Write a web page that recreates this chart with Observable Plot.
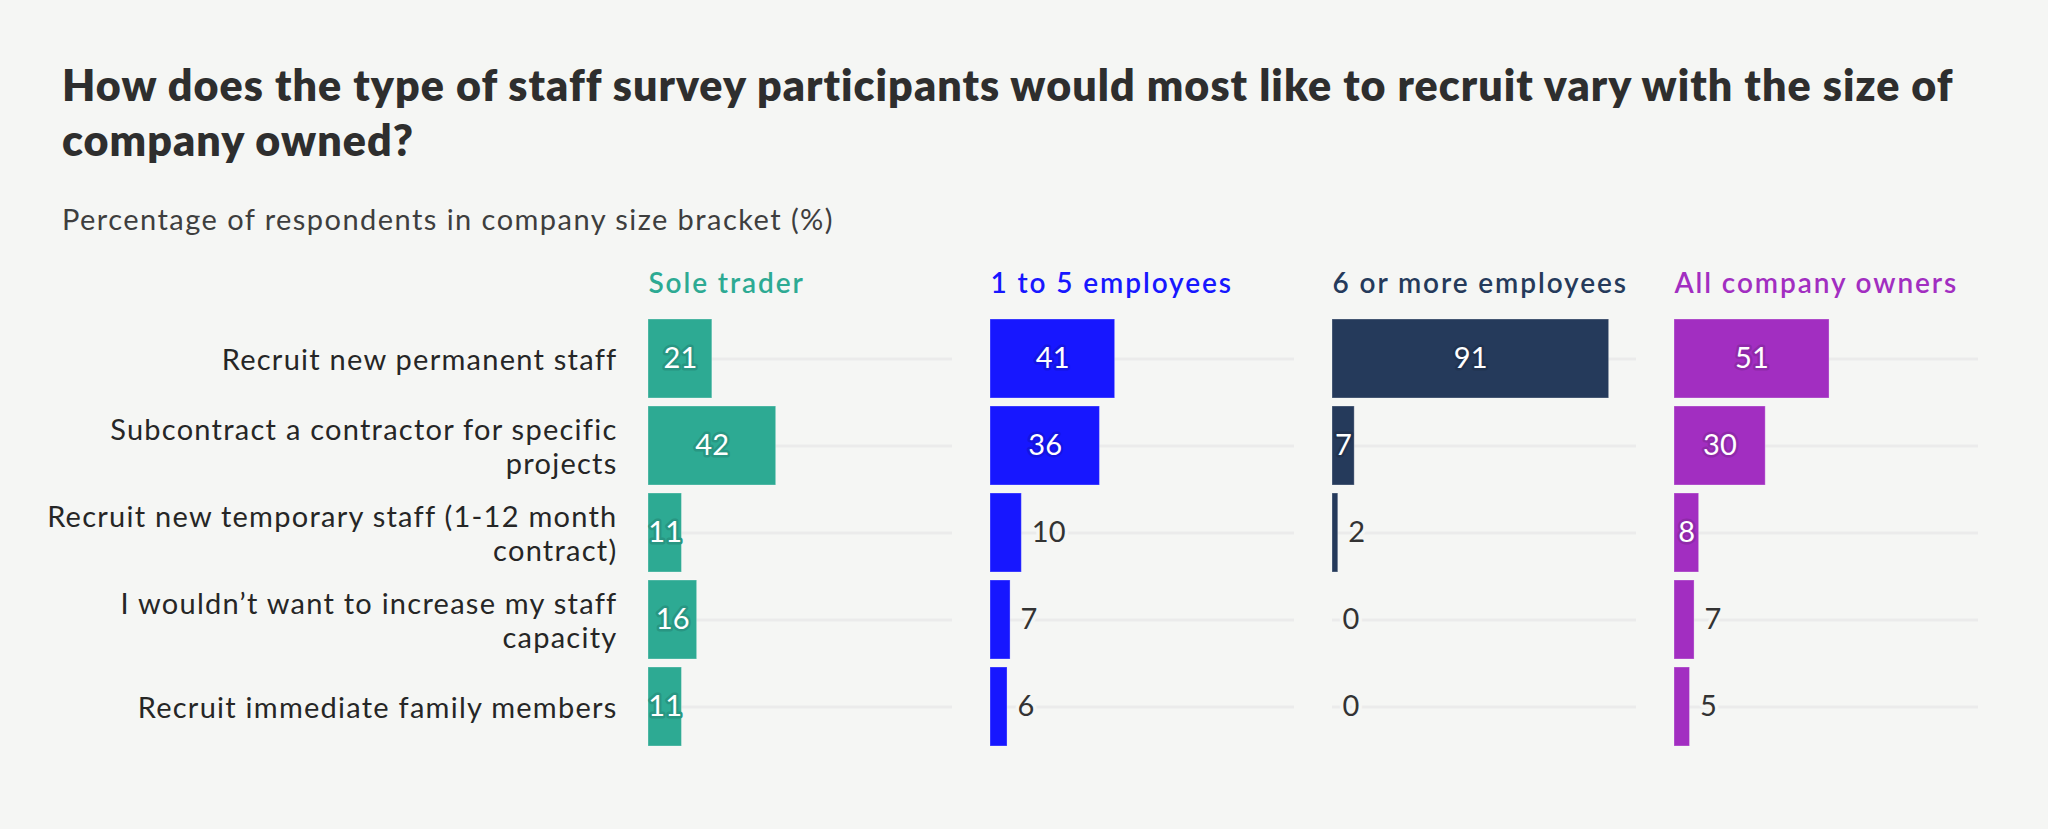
<!DOCTYPE html>
<html>
<head>
<meta charset="utf-8">
<script src="https://cdn.jsdelivr.net/npm/d3@7"></script>
<script src="https://cdn.jsdelivr.net/npm/@observablehq/plot@0.6"></script>
<style>
  html, body { margin: 0; padding: 0; background: #f5f6f4; }
  body { width: 2048px; height: 829px; position: relative; overflow: hidden; font-family: Lato, "Open Sans", sans-serif; }
  #title { position: absolute; left: 62px; top: 57px; font-size: 43px; line-height: 55px; font-weight: 800; color: #2e2e2e; white-space: nowrap; letter-spacing: 1.05px; }
  #subtitle { position: absolute; left: 62px; top: 201px; font-size: 29px; line-height: 35px; color: #3e3e3e; white-space: nowrap; letter-spacing: 1.45px; }
  #chart { position: absolute; left: 0; top: 250px; }
  #chart svg text { letter-spacing: 1.25px; }
  #chart svg text.hdr { letter-spacing: 1.9px; }
  #chart svg text.val { letter-spacing: 0.2px; }
</style>
</head>
<body>
<div id="title">How does the type of staff survey participants would most like to recruit vary with the size of<br>company owned?</div>
<div id="subtitle">Percentage of respondents in company size bracket (%)</div>
<div id="chart"></div>
<script>
// ---- data ----
const groups = ["Sole trader", "1 to 5 employees", "6 or more employees", "All company owners"];
const groupColors = ["#2daa93", "#1717ff", "#253a5b", "#a22ec1"];
const categories = [
  "Recruit new permanent staff",
  "Subcontract a contractor for specific projects",
  "Recruit new temporary staff (1-12 month contract)",
  "I wouldn't want to increase my staff capacity",
  "Recruit immediate family members"
];
const categoryLabels = [
  "Recruit new permanent staff",
  "Subcontract a contractor for specific\nprojects",
  "Recruit new temporary staff (1-12 month\ncontract)",
  "I wouldn\u2019t want to increase my staff\ncapacity",
  "Recruit immediate family members"
];
const soleTrader = [21, 42, 11, 16, 11];
const oneToFive = [41, 36, 10.3, 6.6, 5.6];
const sixOrMore = [91, 7.3, 1.9, 0, 0];
const allOwners = [51, 30, 8.1, 6.6, 5.1];
const xDomain = [0, 100];

// ---- layout ----
const W = 2048, H = 560;
const mL = 646, mR = 68.5, mT = 64.4, mB = 59.1;
const pInner = 38 / 343;
const fontSize = 29;
const bg = "#f5f6f4";

const series = [soleTrader, oneToFive, sixOrMore, allOwners];
const step = (W - mL - mR) / (groups.length - pInner);
const panelW = step * (1 - pInner);
const pxPerUnit = panelW / (xDomain[1] - xDomain[0]);

function labelWidth(s) {
  let w = 0;
  for (const ch of s) w += (ch === "1" ? 0.4 : 0.58) * fontSize;
  return w;
}

const rows = [];
groups.forEach((g, gi) => {
  series[gi].forEach((v, ci) => {
    const label = String(Math.round(v));
    rows.push({
      group: g,
      category: categories[ci],
      value: v,
      label,
      inside: v * pxPerUnit >= labelWidth(label) + 4
    });
  });
});

const labelMap = new Map(categories.map((c, i) => [c, categoryLabels[i]]));

const marks = [
  Plot.ruleY(categories, {y: d => d, x1: xDomain[0], x2: xDomain[1], stroke: "#ebebeb", strokeWidth: 3}),
  Plot.barX(rows, {x: "value", y: "category", fx: "group", fill: "group", stroke: "#ffffff", strokeOpacity: 0.3, strokeWidth: 1}),
  Plot.axisY({tickSize: 0, tickPadding: 31, label: null, tickFormat: d => labelMap.get(d), fontSize, lineHeight: 1.18, fill: "#262626", fontFamily: "Lato"}),
  Plot.text(groups, {fx: d => d, text: d => d, frameAnchor: "top-left", textAnchor: "start", lineAnchor: "bottom", dy: 42 - mT, fontSize: 28, fontWeight: 600, fontFamily: "Lato", fill: d => d}),
  Plot.text(rows.filter(d => !d.inside), {x: "value", y: "category", fx: "group", text: "label", dx: 10, textAnchor: "start", fontSize, fontFamily: "Lato", fill: "#333333", stroke: bg, strokeWidth: 7})
];
groups.forEach((g, gi) => {
  marks.push(Plot.text(rows.filter(d => d.inside && d.group === g), {
    x: d => d.value / 2, y: "category", fx: "group", text: "label",
    fontSize, fontFamily: "Lato", fill: "white",
    stroke: d3.color(groupColors[gi]).darker(0.35).formatHex(), strokeWidth: 5
  }));
});

const chart = Plot.plot({
  width: W, height: H,
  marginLeft: mL, marginRight: mR, marginTop: mT, marginBottom: mB,
  style: {background: "transparent", fontFamily: "Lato", overflow: "visible"},
  fx: {domain: groups, axis: null, paddingInner: pInner, paddingOuter: 0},
  x: {domain: xDomain, axis: null},
  y: {domain: categories, label: null, paddingInner: 0.09, paddingOuter: 0.045},
  color: {domain: groups, range: groupColors},
  marks
});
const valueTexts = new Set(rows.map(d => d.label));
d3.select(chart).selectAll("text").each(function() {
  const t = this.textContent;
  if (groups.includes(t)) d3.select(this).classed("hdr", true);
  else if (valueTexts.has(t)) d3.select(this).classed("val", true);
});
document.getElementById("chart").appendChild(chart);
</script>
</body>
</html>
